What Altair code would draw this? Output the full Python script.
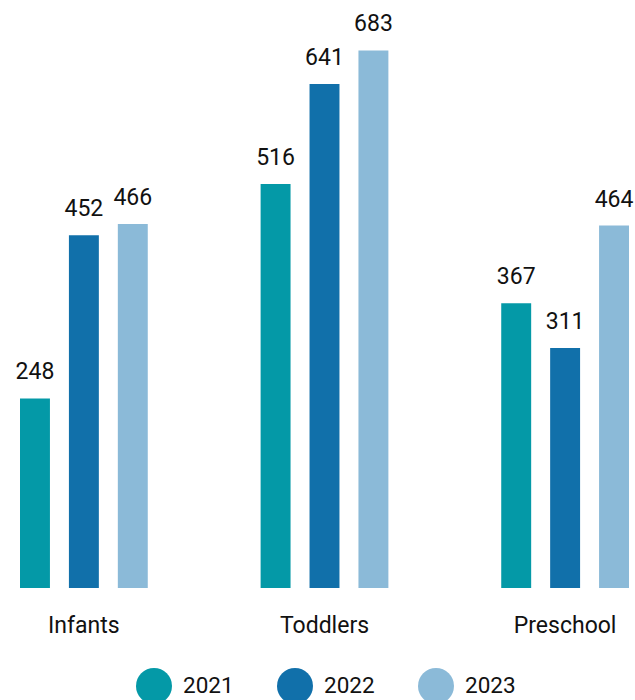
import altair as alt
import pandas as pd

categories = ["Infants", "Toddlers", "Preschool"]
years = ["2021", "2022", "2023"]
values_2021 = [248, 516, 367]
values_2022 = [452, 641, 311]
values_2023 = [466, 683, 464]
colors = ["#0499a7", "#1170aa", "#8bbad8"]

rows = []
for yr, vals in zip(years, [values_2021, values_2022, values_2023]):
    for c, v in zip(categories, vals):
        rows.append({"category": c, "year": yr, "value": v})
df = pd.DataFrame(rows)

FONT = "Roboto"
TXT = "#111111"

x = alt.X(
    "category:N",
    sort=categories,
    scale=alt.Scale(paddingInner=0.469, paddingOuter=0),
    axis=alt.Axis(
        title=None, domain=False, ticks=False, grid=False, labelAngle=0,
        labelPadding=26, labelFontSize=23, labelFont=FONT, labelColor=TXT,
        labelFontWeight="normal",
    ),
)
xo = alt.XOffset("year:N", sort=years, scale=alt.Scale(paddingInner=0.388, paddingOuter=0))
y = alt.Y("value:Q", scale=alt.Scale(domain=[11, 746], zero=False, nice=False), axis=None)

bars = alt.Chart(df).mark_bar().encode(
    x=x,
    xOffset=xo,
    y=y,
    y2=alt.Y2(datum=11),
    color=alt.Color(
        "year:N",
        sort=years,
        scale=alt.Scale(domain=years, range=colors),
        legend=alt.Legend(
            title=None,
            orient="none",
            legendX=116,
            legendY=668,
            direction="horizontal",
            columns=3,
            symbolType="circle",
            symbolSize=1296,
            symbolStrokeWidth=0,
            symbolOpacity=1,
            labelFontSize=22.5,
            labelFont=FONT,
            labelColor=TXT,
            labelOffset=11,
            columnPadding=43,
            padding=0,
        ),
    ),
)

labels = alt.Chart(df).mark_text(
    baseline="alphabetic", align="center", dy=-19, fontSize=23, font=FONT, color=TXT
).encode(x=x, xOffset=xo, y=y, text="value:Q")

chart = (
    alt.layer(bars, labels)
    .properties(
        width=609,
        height=588,
        padding={"left": 20, "top": 0, "right": 6, "bottom": 112},
        autosize=alt.AutoSizeParams(type="none"),
        background="white",
    )
    .configure_view(stroke="transparent", strokeWidth=0)
)

chart.save("out.html", embed_options={"renderer": "svg", "actions": False})
